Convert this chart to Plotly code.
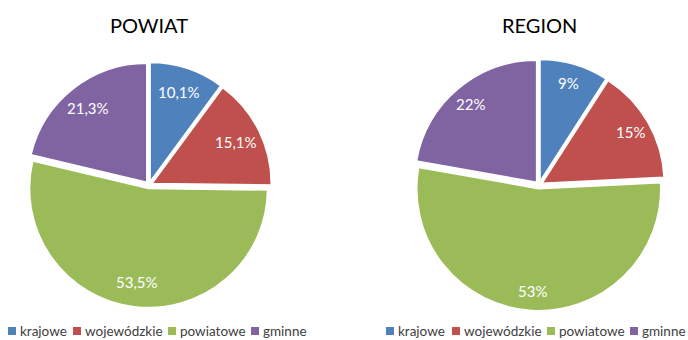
import math
import plotly.graph_objects as go

categories = ["krajowe", "wojewódzkie", "powiatowe", "gminne"]
powiat_values = [10.1, 15.1, 53.5, 21.3]
powiat_text = ["10,1%", "15,1%", "53,5%", "21,3%"]
region_values = [9, 15, 53, 22]
region_text = ["9%", "15%", "53%", "22%"]
titles = ["POWIAT", "REGION"]
colors = ["#4F81BD", "#C0504D", "#9BBB59", "#8064A2"]

W, H = 688, 340
FONT = "Lato, Liberation Sans, sans-serif"
pull = 0.03

# (values, label texts, title, centre x, centre y, radius, label radius fraction)
pies = [
    (powiat_values, powiat_text, titles[0], 149, 185, 119, 0.79),
    (region_values, region_text, titles[1], 539, 185, 122, 0.84),
]

fig = go.Figure()
annotations = []
shapes = []
for vals, txt, title, cx, cy, r, k in pies:
    R = r * (1 + pull)
    fig.add_trace(go.Pie(
        labels=categories, values=vals, text=txt, textinfo="none",
        sort=False, direction="clockwise", rotation=0,
        pull=[pull] * len(vals),
        marker=dict(colors=colors, line=dict(color="white", width=1.5)),
        domain=dict(x=[(cx - R) / W, (cx + R) / W],
                    y=[(H - cy - R) / H, (H - cy + R) / H]),
        showlegend=False, hovertemplate="%{label}: %{text}<extra></extra>",
    ))
    # data labels, placed along each slice's mid-angle
    total = sum(vals)
    cum = 0.0
    for v, t in zip(vals, txt):
        a = 2 * math.pi * (cum + v / 2) / total
        cum += v
        d = r * (k + pull)
        x = cx + d * math.sin(a)
        y = cy - d * math.cos(a)
        annotations.append(dict(text=t, x=x / W, y=1 - y / H, xref="paper", yref="paper",
                                showarrow=False, xanchor="center", yanchor="middle",
                                font=dict(size=15, family=FONT, color="white")))
    annotations.append(dict(text=title, x=cx / W, y=1 - 25 / H, xref="paper", yref="paper",
                            showarrow=False, xanchor="center", yanchor="middle",
                            font=dict(size=20, family=FONT, color="#000000")))

# legends (one per pie), positions in pixels
legend_x = [[8, 73, 168, 251], [386, 452, 547, 630]]
ly = 331
for xs in legend_x:
    for cat, col, x0 in zip(categories, colors, xs):
        shapes.append(dict(type="rect", xref="paper", yref="paper",
                           x0=x0 / W, x1=(x0 + 8) / W,
                           y0=1 - (ly + 4) / H, y1=1 - (ly - 4) / H,
                           fillcolor=col, line=dict(width=0)))
        annotations.append(dict(text=cat, x=(x0 + 10) / W, y=1 - ly / H,
                                xref="paper", yref="paper", showarrow=False,
                                xanchor="left", yanchor="middle",
                                font=dict(size=13.5, family=FONT, color="#404040")))

fig.update_layout(
    width=W, height=H,
    margin=dict(l=0, r=0, t=0, b=0),
    paper_bgcolor="white", plot_bgcolor="white",
    showlegend=False,
    annotations=annotations, shapes=shapes,
)
fig.write_html("out.html", config={"displayModeBar": False},
               post_script="document.body.style.margin='0px';")
